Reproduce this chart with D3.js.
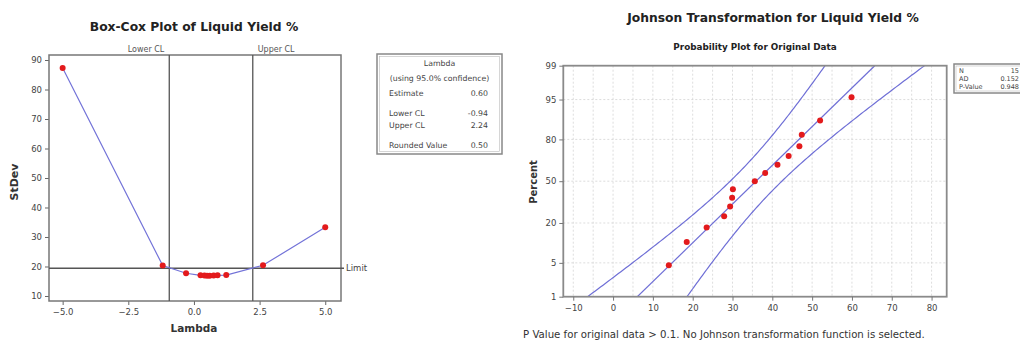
<!DOCTYPE html>
<html>
<head>
<meta charset="utf-8">
<script src="https://cdn.jsdelivr.net/npm/d3@7/dist/d3.min.js"></script>
<style>
  html, body { margin: 0; padding: 0; background: #fff; }
  svg { display: block; font-family: "DejaVu Sans", Verdana, sans-serif; }
</style>
</head>
<body>
<svg id="chart" width="1020" height="342"></svg>
<script>
// ---- Box-Cox data ----
const lambdas = [-5, -1.19, -0.30, 0.25, 0.40, 0.50, 0.60, 0.75, 0.90, 1.23, 2.63, 5];
const stdevs  = [87.3, 20.3, 17.7, 17.0, 16.95, 16.9, 16.9, 16.95, 17.0, 17.1, 20.4, 33.3];
const lambdaTicks = [-5, -2.5, 0, 2.5, 5];
const stdevTicks = [10, 20, 30, 40, 50, 60, 70, 80, 90];
const lambdaEstimate = 0.60;
const lowerCL = -0.94;
const upperCL = 2.24;
const roundedLambda = 0.50;
const stdevLimit = 19.4;

// ---- Johnson / probability plot data ----
const liquidYield = [14.0, 18.5, 23.5, 27.9, 29.4, 29.9, 30.1, 35.6, 38.2, 41.3, 44.1, 46.8, 47.4, 52.0, 59.9];
const valueTicks = [-10, 0, 10, 20, 30, 40, 50, 60, 70, 80];
const percentTicks = [1, 5, 20, 50, 80, 95, 99];
const adStat = "0.152";
const pValue = "0.948";

const svg = d3.select("#chart");

// inverse standard normal CDF (Acklam)
function normInv(p) {
  const a = [-3.969683028665376e+01, 2.209460984245205e+02, -2.759285104469687e+02, 1.383577518672690e+02, -3.066479806614716e+01, 2.506628277459239e+00];
  const b = [-5.447609879822406e+01, 1.615858368580409e+02, -1.556989798598866e+02, 6.680131188771972e+01, -1.328068155288572e+01];
  const c = [-7.784894002430293e-03, -3.223964580411365e-01, -2.400758277161838e+00, -2.549732539343734e+00, 4.374664141464968e+00, 2.938163982698783e+00];
  const d = [7.784695709041462e-03, 3.224671290700398e-01, 2.445134137142996e+00, 3.754408661907416e+00];
  const pl = 0.02425, ph = 1 - pl;
  let q, r;
  if (p < pl) {
    q = Math.sqrt(-2 * Math.log(p));
    return (((((c[0]*q+c[1])*q+c[2])*q+c[3])*q+c[4])*q+c[5]) / ((((d[0]*q+d[1])*q+d[2])*q+d[3])*q+1);
  } else if (p <= ph) {
    q = p - 0.5; r = q * q;
    return (((((a[0]*r+a[1])*r+a[2])*r+a[3])*r+a[4])*r+a[5])*q / (((((b[0]*r+b[1])*r+b[2])*r+b[3])*r+b[4])*r+1);
  } else {
    q = Math.sqrt(-2 * Math.log(1 - p));
    return -(((((c[0]*q+c[1])*q+c[2])*q+c[3])*q+c[4])*q+c[5]) / ((((d[0]*q+d[1])*q+d[2])*q+d[3])*q+1);
  }
}

// =============== Box-Cox plot ===============
const L = { x0: 49, x1: 341, y0: 55, y1: 301 };
const bx = d3.scaleLinear().domain([-5.52, 5.6]).range([L.x0, L.x1]);
const by = d3.scaleLinear().domain([8.3, 91.7]).range([L.y1, L.y0]);
const gL = svg.append("g");

gL.append("text").attr("x", 194).attr("y", 31).attr("text-anchor", "middle")
  .attr("font-size", 12.3).attr("font-weight", "bold").attr("fill", "#222")
  .text("Box-Cox Plot of Liquid Yield %");

// axes
const bxAxis = gL.append("g").attr("transform", `translate(0,${L.y1})`)
  .call(d3.axisBottom(bx).tickValues(lambdaTicks).tickFormat(d3.format(".1f")).tickSize(4).tickPadding(4));
const byAxis = gL.append("g").attr("transform", `translate(${L.x0},0)`)
  .call(d3.axisLeft(by).tickValues(stdevTicks).tickSize(4).tickPadding(3));
[bxAxis, byAxis].forEach(a => {
  a.select(".domain").remove();
  a.selectAll("line").attr("stroke", "#666");
  a.selectAll("text").attr("font-size", 8.5).attr("fill", "#444").attr("font-family", "DejaVu Sans");
});

gL.append("rect").attr("x", L.x0).attr("y", L.y0).attr("width", L.x1 - L.x0).attr("height", L.y1 - L.y0)
  .attr("fill", "none").attr("stroke", "#777").attr("stroke-width", 1.5);

// limit and confidence lines
gL.append("line").attr("x1", L.x0).attr("x2", 344).attr("y1", by(stdevLimit)).attr("y2", by(stdevLimit))
  .attr("stroke", "#555").attr("stroke-width", 1.3);
gL.append("text").attr("x", 346).attr("y", by(stdevLimit) + 3).attr("font-size", 8.5).attr("fill", "#444").text("Limit");
[lowerCL, upperCL].forEach(v => {
  gL.append("line").attr("x1", bx(v)).attr("x2", bx(v)).attr("y1", L.y0).attr("y2", L.y1)
    .attr("stroke", "#555").attr("stroke-width", 1.3);
});
gL.append("text").attr("x", bx(lowerCL) - 5).attr("y", 52).attr("text-anchor", "end")
  .attr("font-size", 8).attr("fill", "#555").text("Lower CL");
gL.append("text").attr("x", bx(upperCL) + 5).attr("y", 52)
  .attr("font-size", 8).attr("fill", "#555").text("Upper CL");

// curve + points
const bcData = lambdas.map((l, i) => ({ l, s: stdevs[i] }));
gL.append("path").datum(bcData)
  .attr("d", d3.line().x(d => bx(d.l)).y(d => by(d.s)))
  .attr("fill", "none").attr("stroke", "#7373d8").attr("stroke-width", 1.2);
gL.selectAll("circle.bc").data(bcData).join("circle").attr("class", "bc")
  .attr("cx", d => bx(d.l)).attr("cy", d => by(d.s)).attr("r", 3).attr("fill", "#e31a1c");

// axis titles
gL.append("text").attr("x", 194).attr("y", 332).attr("text-anchor", "middle")
  .attr("font-size", 10.5).attr("font-weight", "bold").attr("fill", "#333").text("Lambda");
gL.append("text").attr("transform", "translate(18,182) rotate(-90)").attr("text-anchor", "middle")
  .attr("font-size", 11).attr("font-weight", "bold").attr("fill", "#333").text("StDev");

// lambda table
const T = { x: 377, y: 54, w: 125, h: 100 };
gL.append("rect").attr("x", T.x).attr("y", T.y).attr("width", T.w).attr("height", T.h)
  .attr("fill", "#fff").attr("stroke", "#888").attr("stroke-width", 1.5);
gL.append("rect").attr("x", T.x + 2.5).attr("y", T.y + 2.5).attr("width", T.w - 5).attr("height", T.h - 5)
  .attr("fill", "none").attr("stroke", "#bbb").attr("stroke-width", 0.6);
const tf = 7.8;
gL.append("text").attr("x", T.x + T.w / 2).attr("y", 66).attr("text-anchor", "middle").attr("font-size", tf).attr("fill", "#444").text("Lambda");
gL.append("text").attr("x", T.x + T.w / 2).attr("y", 81).attr("text-anchor", "middle").attr("font-size", tf).attr("fill", "#444").text("(using 95.0% confidence)");
const rows = [
  ["Estimate", lambdaEstimate.toFixed(2), 96],
  ["Lower CL", lowerCL.toFixed(2), 116],
  ["Upper CL", upperCL.toFixed(2), 128],
  ["Rounded Value", roundedLambda.toFixed(2), 148]
];
rows.forEach(r => {
  gL.append("text").attr("x", 389).attr("y", r[2]).attr("font-size", tf).attr("fill", "#444").text(r[0]);
  gL.append("text").attr("x", 488).attr("y", r[2]).attr("text-anchor", "end").attr("font-size", tf).attr("fill", "#444").text(r[1]);
});

// =============== Johnson probability plot ===============
const R = { x0: 563.3, x1: 946.7, y0: 65.7, y1: 296.7 };
const px = d3.scaleLinear().domain([-12.5, 83.8]).range([R.x0, R.x1]);
const pz = d3.scaleLinear().domain([normInv(0.01), normInv(0.99)]).range([R.y1, R.y0]);
const py = p => pz(normInv(p / 100));
const gR = svg.append("g");

gR.append("text").attr("x", 773).attr("y", 22).attr("text-anchor", "middle")
  .attr("font-size", 12.3).attr("font-weight", "bold").attr("fill", "#222")
  .text("Johnson Transformation for Liquid Yield %");
gR.append("text").attr("x", 755).attr("y", 50).attr("text-anchor", "middle")
  .attr("font-size", 8.8).attr("font-weight", "bold").attr("fill", "#222")
  .text("Probability Plot for Original Data");

// grid
const gridX = d3.range(-10, 81, 5);
gR.selectAll("line.gx").data(gridX).join("line").attr("class", "gx")
  .attr("x1", d => px(d)).attr("x2", d => px(d)).attr("y1", R.y0).attr("y2", R.y1)
  .attr("stroke", "#d4d4d4").attr("stroke-width", 0.8).attr("stroke-dasharray", "2,2");
gR.selectAll("line.gy").data(percentTicks.slice(1, -1)).join("line").attr("class", "gy")
  .attr("x1", R.x0).attr("x2", R.x1).attr("y1", d => py(d)).attr("y2", d => py(d))
  .attr("stroke", "#d4d4d4").attr("stroke-width", 0.8).attr("stroke-dasharray", "2,2");

// normal fit and 95% confidence band
const n = liquidYield.length;
const mu = d3.mean(liquidYield);
const sigma = d3.deviation(liquidYield);
const zs = d3.range(0, 121).map(i => pz.domain()[0] + (pz.domain()[1] - pz.domain()[0]) * i / 120);
const half = z => 1.96 * sigma * Math.sqrt(1 / n + z * z / (2 * n));
const band = zs.map(z => ({ z, lo: mu + z * sigma - half(z), hi: mu + z * sigma + half(z) }));

gR.append("clipPath").attr("id", "rclip").append("rect")
  .attr("x", R.x0).attr("y", R.y0).attr("width", R.x1 - R.x0).attr("height", R.y1 - R.y0);
const plot = gR.append("g").attr("clip-path", "url(#rclip)");
["lo", "hi"].forEach(k => {
  plot.append("path").datum(band)
    .attr("d", d3.line().x(d => px(d[k])).y(d => pz(d.z)))
    .attr("fill", "none").attr("stroke", "#6f6fd6").attr("stroke-width", 1.2);
});
plot.append("line")
  .attr("x1", px(mu + pz.domain()[0] * sigma)).attr("y1", pz(pz.domain()[0]))
  .attr("x2", px(mu + pz.domain()[1] * sigma)).attr("y2", pz(pz.domain()[1]))
  .attr("stroke", "#6f6fd6").attr("stroke-width", 1.2);

// points at median-rank plotting positions
const sorted = liquidYield.slice().sort(d3.ascending);
gR.selectAll("circle.pt").data(sorted).join("circle").attr("class", "pt")
  .attr("cx", d => px(d)).attr("cy", (d, i) => py(100 * (i + 1 - 0.3) / (n + 0.4)))
  .attr("r", 3).attr("fill", "#e31a1c");

// frame and axes
gR.append("rect").attr("x", R.x0).attr("y", R.y0).attr("width", R.x1 - R.x0).attr("height", R.y1 - R.y0)
  .attr("fill", "none").attr("stroke", "#8a8a8a").attr("stroke-width", 1.8);
const rxAxis = gR.append("g").attr("transform", `translate(0,${R.y1})`)
  .call(d3.axisBottom(px).tickValues(valueTicks).tickSize(4).tickPadding(4));
const ryAxis = gR.append("g").attr("transform", `translate(${R.x0},0)`)
  .call(d3.axisLeft(d3.scaleLinear().domain(pz.domain()).range(pz.range()))
    .tickValues(percentTicks.map(p => normInv(p / 100)))
    .tickFormat((d, i) => percentTicks[i]).tickSize(4).tickPadding(3));
[rxAxis, ryAxis].forEach(a => {
  a.select(".domain").remove();
  a.selectAll("line").attr("stroke", "#777");
  a.selectAll("text").attr("font-size", 8.5).attr("fill", "#444").attr("font-family", "DejaVu Sans");
});

gR.append("text").attr("transform", "translate(537,182) rotate(-90)").attr("text-anchor", "middle")
  .attr("font-size", 10).attr("font-weight", "bold").attr("fill", "#333").text("Percent");

gR.append("text").attr("x", 523).attr("y", 338).attr("font-size", 10.2).attr("fill", "#333")
  .text("P Value for original data > 0.1. No Johnson transformation function is selected.");

// statistics box
const S = { x: 954, y: 64, w: 80, h: 29 };
gR.append("rect").attr("x", S.x).attr("y", S.y).attr("width", S.w).attr("height", S.h)
  .attr("fill", "#fff").attr("stroke", "#888").attr("stroke-width", 1.5);
gR.append("rect").attr("x", S.x + 2).attr("y", S.y + 2).attr("width", S.w - 4).attr("height", S.h - 4)
  .attr("fill", "none").attr("stroke", "#bbb").attr("stroke-width", 0.6);
[["N", String(n), 73], ["AD", adStat, 81], ["P-Value", pValue, 89]].forEach(r => {
  gR.append("text").attr("x", 959).attr("y", r[2]).attr("font-size", 6.5).attr("fill", "#444").text(r[0]);
  gR.append("text").attr("x", 1019).attr("y", r[2]).attr("text-anchor", "end").attr("font-size", 6.5).attr("fill", "#444").text(r[1]);
});
</script>
</body>
</html>
